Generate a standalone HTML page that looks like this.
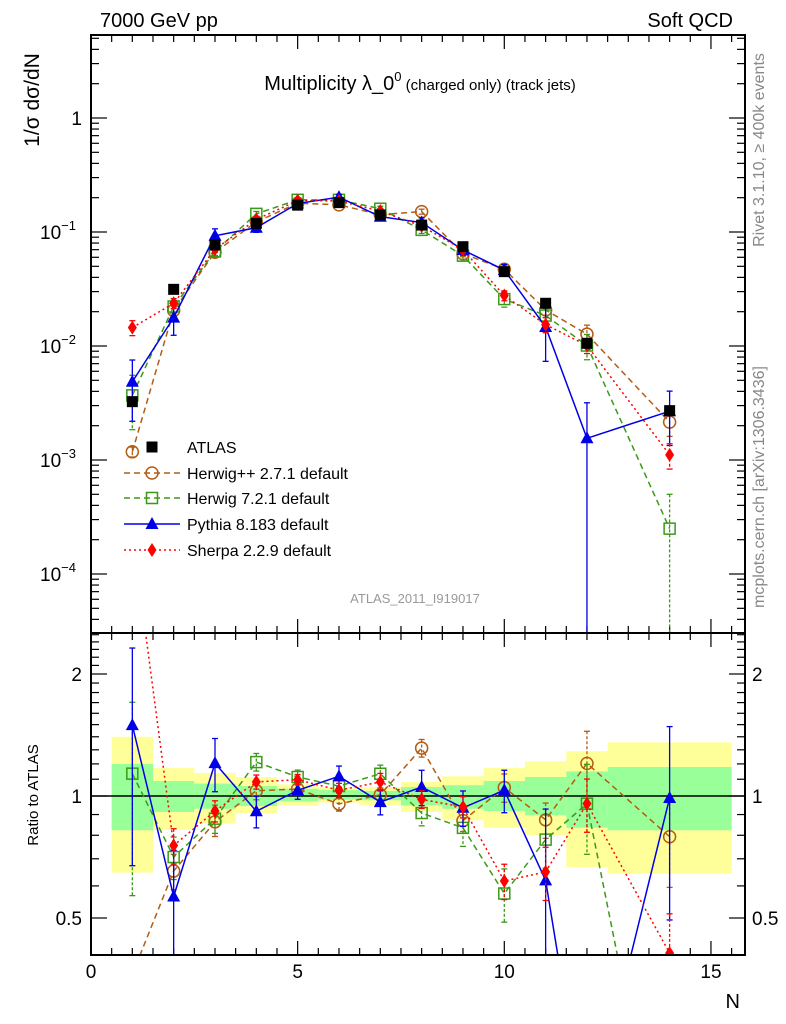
<!DOCTYPE html>
<html><head><meta charset="utf-8"><style>
html,body{margin:0;padding:0;background:#fff;overflow:hidden;width:786px;height:1024px;}
svg{display:block;font-family:"Liberation Sans",sans-serif;}
</style></head><body>
<svg id="c" width="786" height="1024" viewBox="0 0 786 1024" xmlns="http://www.w3.org/2000/svg">
<defs>
<clipPath id="clipTop"><rect x="91" y="35" width="654" height="598"/></clipPath>
<clipPath id="clipBot"><rect x="91" y="633" width="654" height="322"/></clipPath>
</defs>
<g id="bands" clip-path="url(#clipBot)"></g>
<g id="ticks"></g>
<line x1="91" y1="796" x2="745" y2="796" stroke="#000" stroke-width="1.5"/>
<g id="top" clip-path="url(#clipTop)"></g>
<g id="bot" clip-path="url(#clipBot)"></g>
<rect x="91" y="35" width="654" height="598" fill="none" stroke="#000" stroke-width="2"/>
<rect x="91" y="633" width="654" height="322" fill="none" stroke="#000" stroke-width="2"/>
<text x="100" y="27" font-size="20">7000 GeV pp</text>
<text x="733" y="27" font-size="20" text-anchor="end">Soft QCD</text>
<text x="420" y="90" font-size="20" text-anchor="middle">Multiplicity λ_0<tspan dy="-9" font-size="13">0</tspan><tspan dy="9" font-size="15"> (charged only) (track jets)</tspan></text>
<text transform="translate(39,100) rotate(-90)" font-size="21" text-anchor="middle">1/σ dσ/dN</text>
<text transform="translate(38,795) rotate(-90)" font-size="15" text-anchor="middle">Ratio to ATLAS</text>
<text transform="translate(764,150) rotate(-90)" font-size="16" fill="#888" text-anchor="middle">Rivet 3.1.10, ≥ 400k events</text>
<text transform="translate(764,487) rotate(-90)" font-size="16" fill="#888" text-anchor="middle">mcplots.cern.ch [arXiv:1306.3436]</text>
<text x="415" y="603" font-size="13" fill="#999" text-anchor="middle">ATLAS_2011_I919017</text>
<text x="740" y="1008" font-size="20" text-anchor="end">N</text>
<g id="legend"></g>
<g id="labels"></g>
</svg>
<script>
const Ns=[1,2,3,4,5,6,7,8,9,10,11,12,14];
const binLo=[0.5,1.5,2.5,3.5,4.5,5.5,6.5,7.5,8.5,9.5,10.5,11.5,12.5];
const binHi=[1.5,2.5,3.5,4.5,5.5,6.5,7.5,8.5,9.5,10.5,11.5,12.5,15.5];
const atlas=[0.00325,0.0314,0.0769,0.119,0.172,0.181,0.141,0.115,0.0743,0.0449,0.0237,0.01055,0.00271];
const yelUp=[1.40,1.172,1.14,1.114,1.068,1.052,1.052,1.083,1.118,1.172,1.218,1.29,1.356];
const yelLo=[0.647,0.826,0.855,0.908,0.945,0.963,0.948,0.913,0.871,0.835,0.80,0.668,0.643];
const grnUp=[1.20,1.089,1.073,1.058,1.042,1.034,1.029,1.052,1.063,1.089,1.114,1.15,1.179];
const grnLo=[0.823,0.913,0.930,0.945,0.970,0.979,0.976,0.948,0.930,0.918,0.896,0.835,0.823];
const herwigpp=[0.00118,0.0205,0.0664,0.1226,0.179,0.173,0.142,0.151,0.0646,0.0471,0.0207,0.0127,0.00215];
const herwigppErr=[0.1,0.1,0.08,0.05,0.03,0.04,0.04,0.05,0.06,0.08,0.1,0.2,0.25];
const herwig7=[0.00369,0.0222,0.0676,0.1443,0.1916,0.1915,0.160,0.1044,0.0620,0.0258,0.0185,0.0101,0.00025];
const herwig7Err=[0.5,0.12,0.08,0.05,0.04,0.04,0.05,0.07,0.1,0.15,0.15,0.25,1.0];
const pythia=[0.00486,0.01774,0.0927,0.1091,0.1777,0.2024,0.1362,0.121,0.0695,0.0464,0.01467,0.00155,0.00268];
const pythiaErr=[0.55,0.3,0.15,0.09,0.05,0.06,0.07,0.1,0.1,0.12,0.5,1.05,0.5];
const sherpa=[0.0145,0.0237,0.0706,0.1289,0.1887,0.187,0.1527,0.1128,0.0698,0.0277,0.0154,0.0101,0.00111];
const sherpaErr=[0.15,0.1,0.06,0.04,0.03,0.04,0.05,0.05,0.06,0.1,0.15,0.15,0.25];
const xTicks=[0,5,10,15];
const yTopTicks=[1,0.1,0.01,0.001,0.0001];
const yTopLabels=["1","10","10","10","10"];
const yTopExp=["","−1","−2","−3","−4"];
const ratioTicks=[0.5,1,2];
const ratioLabels=["0.5","1","2"];

const NS="http://www.w3.org/2000/svg";
const X=n=>91+n*41.33;
const YT=v=>118-114*Math.log10(v);
const YR=r=>796-122*Math.log2(r);
function mk(tag,attrs,parent){const e=document.createElementNS(NS,tag);for(const k in attrs)e.setAttribute(k,attrs[k]);parent.appendChild(e);return e;}
const gB=document.getElementById('bands'),gT=document.getElementById('ticks'),gTop=document.getElementById('top'),gBot=document.getElementById('bot'),gL=document.getElementById('legend'),gLab=document.getElementById('labels');

for(let i=0;i<Ns.length;i++){
  let r=mk('rect',{x:X(binLo[i]),y:YR(yelUp[i]),width:X(binHi[i])-X(binLo[i]),height:YR(yelLo[i])-YR(yelUp[i]),fill:'#ffff99'},gB);
  
  
}
for(let i=0;i<Ns.length;i++){
  let r=mk('rect',{x:X(binLo[i]),y:YR(grnUp[i]),width:X(binHi[i])-X(binLo[i]),height:YR(grnLo[i])-YR(grnUp[i]),fill:'#99ff99'},gB);
  
  
}

function tick(x1,y1,x2,y2){const l=mk('line',{x1,y1,x2,y2,stroke:'#000','stroke-width':1.2},gT);}
for(let k=0;k<=31;k++){const n=k*0.5;if(n>15.7)break;const x=X(n);const len=(n%5===0)?14:7;
  tick(x,955,x,955-len);tick(x,633,x,633-len);tick(x,633,x,633+len);tick(x,35,x,35+len);}
for(let d=-5;d<=0;d++){for(let m=1;m<=9;m++){const v=m*Math.pow(10,d);const y=YT(v);if(y<35||y>633)continue;const len=m===1?16:8;
  tick(91,y,91+len,y);tick(745,y,745-len,y);}}
for(let r=0.4;r<=2.55;r+=0.1){const y=YR(r);if(y<633||y>955)continue;const maj=Math.abs(r-0.5)<1e-6||Math.abs(r-1)<1e-6||Math.abs(r-2)<1e-6;const len=maj?16:8;
  tick(91,y,91+len,y);tick(745,y,745-len,y);}

xTicks.forEach(n=>{const t=mk('text',{x:X(n),y:978,'font-size':19,'text-anchor':'middle'},gLab);t.textContent=String(n);});
yTopTicks.forEach((v,i)=>{const t=mk('text',{x:yTopExp[i]?58:82,y:YT(v)+7,'font-size':19,'text-anchor':yTopExp[i]?'middle':'end'},gLab);t.textContent=yTopLabels[i];
  if(yTopExp[i]){const s=mk('tspan',{dy:-9,'font-size':13},t);s.textContent=yTopExp[i];}
  });
ratioTicks.forEach((r,i)=>{[[82,'end'],[752,'start']].forEach(([x,a])=>{const t=mk('text',{x,y:YR(r)+7,'font-size':19,'text-anchor':a},gLab);t.textContent=ratioLabels[i];});});

function marker(g,type,x,y,col){
  let e;
  if(type==='sq') e=mk('rect',{x:x-5.5,y:y-5.5,width:11,height:11,fill:'#000'},g);
  else if(type==='osq') e=mk('rect',{x:x-5.5,y:y-5.5,width:11,height:11,fill:'#fff','fill-opacity':0,stroke:col,'stroke-width':1.5},g);
  else if(type==='oc') e=mk('circle',{cx:x,cy:y,r:6,fill:'none',stroke:col,'stroke-width':1.5},g);
  else if(type==='tri') e=mk('path',{d:`M${x},${y-7}L${x+6.5},${y+5}L${x-6.5},${y+5}Z`,fill:col},g);
  else if(type==='dia') e=mk('path',{d:`M${x},${y-7}L${x+4.5},${y}L${x},${y+7}L${x-4.5},${y}Z`,fill:col},g);
  return e;
}
const series=[
 {name:'herwigpp',vals:herwigpp,err:herwigppErr,col:'#b35c14',dash:'6,4',m:'oc',label:'Herwig++ 2.7.1 default'},
 {name:'herwig7',vals:herwig7,err:herwig7Err,col:'#3a9a18',dash:'6,4',m:'osq',label:'Herwig 7.2.1 default'},
 {name:'pythia',vals:pythia,err:pythiaErr,col:'#0000e6',dash:'',m:'tri',label:'Pythia 8.183 default'},
 {name:'sherpa',vals:sherpa,err:sherpaErr,col:'#ff0000',dash:'2,3',m:'dia',label:'Sherpa 2.2.9 default'}
];
function drawPanel(g,valF,Y,panel){
  series.forEach(s=>{
    const sg=mk('g',{},g);
    
    
    const pts=Ns.map((n,i)=>X(n)+','+Y(valF(s,i))).join(' ');
    const pl=mk('polyline',{points:pts,fill:'none',stroke:s.col,'stroke-width':1.5,'stroke-dasharray':s.dash},sg);
    
    
    Ns.forEach((n,i)=>{
      const v=valF(s,i),e=s.err[i];
      const lo=Math.max(v*(1-e),v*1e-4);
      const y1=Y(v*(1+e)),y2=Y(lo),x=X(n);
      const eb=mk('line',{x1:x,y1,x2:x,y2,stroke:s.col,'stroke-width':1.3,'stroke-dasharray':s.dash?'3,2':''},sg);
      
      
      mk('line',{x1:x-3,y1,x2:x+3,y2:y1,stroke:s.col,'stroke-width':1.3},sg);
      mk('line',{x1:x-3,y1:y2,x2:x+3,y2,stroke:s.col,'stroke-width':1.3},sg);
      const mm=marker(sg,s.m,x,Y(v),s.col);
      
      
    });
  });
}
drawPanel(gTop,(s,i)=>s.vals[i],YT,'main');
Ns.forEach((n,i)=>{const m=marker(gTop,'sq',X(n),YT(atlas[i]),'#000');});
drawPanel(gBot,(s,i)=>s.vals[i]/atlas[i],YR,'ratio');

const lx=152,ly=[447,473,498,524,550];
{const m=marker(gL,'sq',lx,ly[0],'#000');
 const t=mk('text',{x:187,y:ly[0]+6,'font-size':16},gL);t.textContent='ATLAS';}
series.forEach((s,k)=>{const y=ly[k+1];
  const l=mk('line',{x1:124,y1:y,x2:180,y2:y,stroke:s.col,'stroke-width':1.5,'stroke-dasharray':s.dash},gL);
  const m=marker(gL,s.m,lx,y,s.col);
  const t=mk('text',{x:187,y:y+6,'font-size':16},gL);t.textContent=s.label;});
</script>
</body></html>
